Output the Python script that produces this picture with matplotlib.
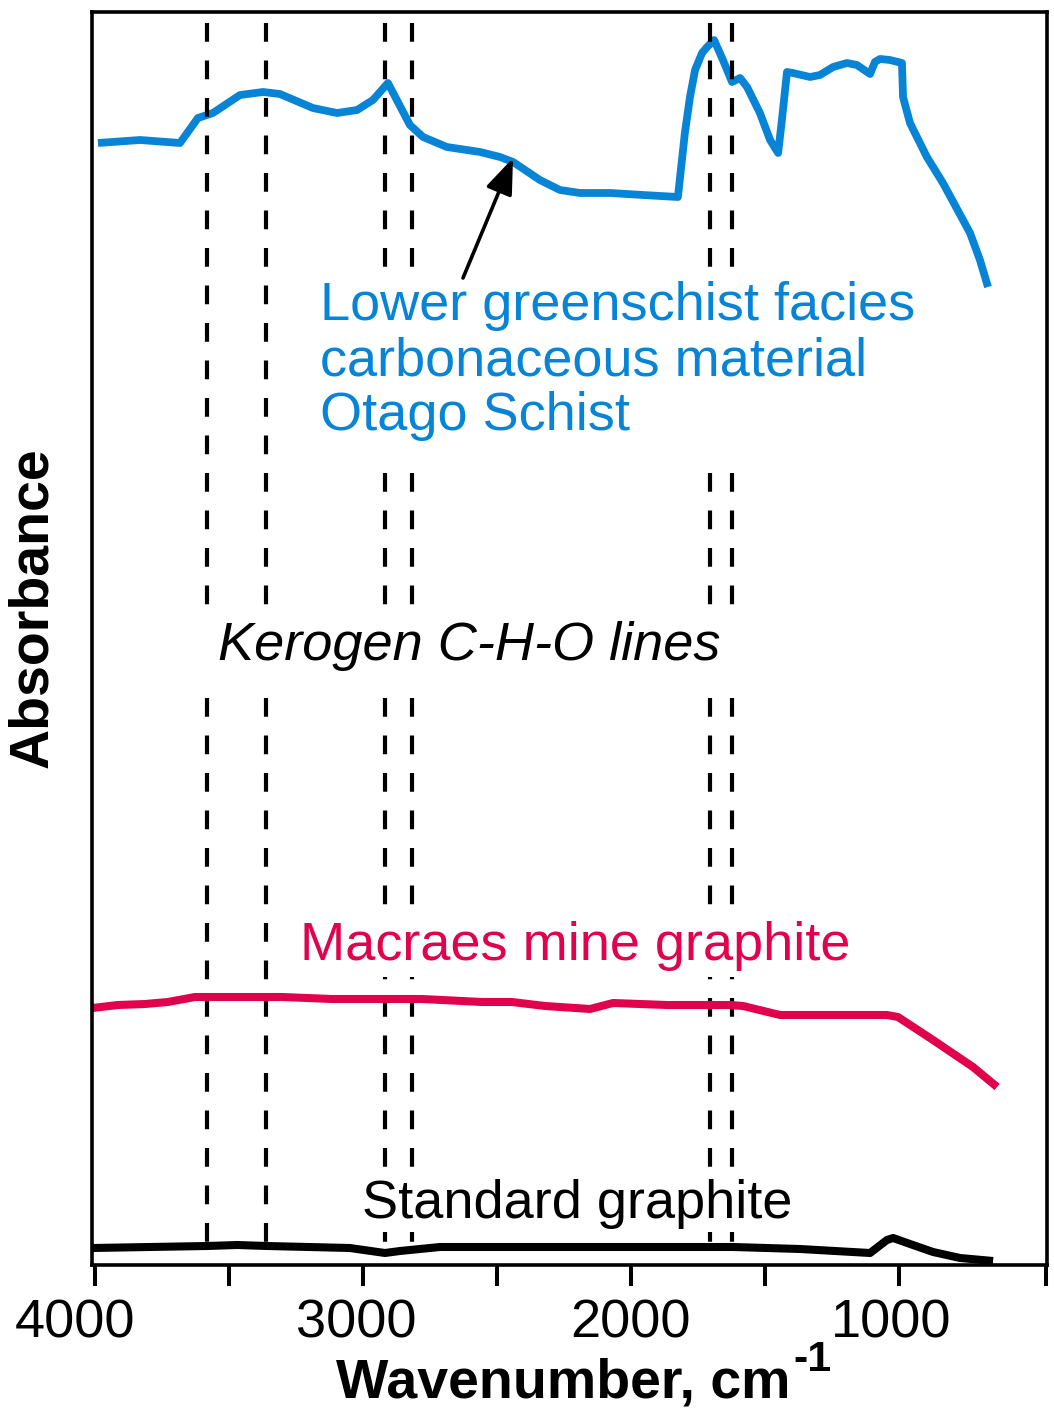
import matplotlib
matplotlib.use('Agg')
import matplotlib.pyplot as plt
from matplotlib.patches import Rectangle
from matplotlib.transforms import ScaledTranslation

plt.rcParams['font.family'] = ['Liberation Sans', 'DejaVu Sans']

# ---------------- data (wavenumber cm^-1, absorbance arbitrary units) -------------
blue_wn = [3989, 3832, 3683, 3616, 3560, 3459, 3373, 3310, 3187, 3097, 3022, 2963,
           2907, 2825, 2776, 2687, 2563, 2489, 2440, 2340, 2265, 2190, 2078, 1955,
           1825, 1799, 1780, 1761, 1735, 1716, 1690, 1657, 1623, 1593, 1567, 1519,
           1481, 1451, 1437, 1418, 1396, 1332, 1295, 1246, 1194, 1157, 1108, 1090,
           1071, 1034, 989, 985, 959, 896, 836, 735, 698, 668]
blue_ab = [11.22, 11.25, 11.22, 11.47, 11.52, 11.70, 11.73, 11.71, 11.57, 11.52, 11.55, 11.65,
           11.82, 11.40, 11.28, 11.18, 11.13, 11.08, 11.03, 10.85, 10.75, 10.72, 10.72, 10.70,
           10.68, 11.32, 11.68, 11.95, 12.12, 12.18, 12.25, 12.05, 11.83, 11.87, 11.78, 11.52,
           11.25, 11.12, 11.45, 11.93, 11.92, 11.88, 11.90, 11.98, 12.02, 12.00, 11.91, 12.03,
           12.06, 12.05, 12.02, 11.68, 11.42, 11.08, 10.82, 10.32, 10.05, 9.78]

red_wn = [4010, 3914, 3813, 3728, 3627, 3541, 3302, 3116, 2780, 2556, 2444, 2321,
          2153, 2067, 1866, 1631, 1582, 1444, 1045, 1004, 873, 724, 634]
red_ab = [2.57, 2.60, 2.61, 2.63, 2.68, 2.68, 2.68, 2.66, 2.66, 2.63, 2.63, 2.59,
          2.56, 2.62, 2.60, 2.60, 2.59, 2.50, 2.50, 2.48, 2.25, 1.98, 1.78]

black_wn = [4010, 3582, 3470, 3358, 3049, 2918, 2862, 2750, 2713, 1619, 1369, 1108,
            1045, 1022, 948, 873, 772, 649]
black_ab = [0.17, 0.19, 0.20, 0.19, 0.17, 0.12, 0.14, 0.17, 0.18, 0.18, 0.16, 0.12,
            0.25, 0.27, 0.20, 0.13, 0.07, 0.04]

kerogen_lines = [3582, 3362, 2918, 2817, 1705, 1623]

tick_values = [4000, 3500, 3000, 2500, 2000, 1500, 1000, 450]
tick_labels = ['4000', '', '3000', '', '2000', '', '1000', '']

label_blue = ['Lower greenschist facies', 'carbonaceous material', 'Otago Schist']
label_red = 'Macraes mine graphite'
label_black = 'Standard graphite'
label_lines = 'Kerogen C-H-O lines'

BLUE = '#0784D6'
RED = '#E0024D'

# ---------------- layout helpers (pixel -> data) ----------------
W, H = 1054, 1414


def wn(px):
    return 4000 - (px - 95) * 3.7313


def ab(py):
    return (1265 - py) / 100.0


fig = plt.figure(figsize=(W / 100, H / 100), dpi=100)
ax = fig.add_axes([92 / W, 1 - 1265 / H, (1047 - 92) / W, (1265 - 12) / H])
ax.set_xlim(wn(92), wn(1047))
ax.set_ylim(0, ab(12))

for s in ax.spines.values():
    s.set_linewidth(2.6)

ax.set_xticks(tick_values)
ax.set_xticklabels(tick_labels, fontsize=39)
ax.tick_params(axis='x', direction='out', length=15, width=2.9, pad=9)
ax.set_yticks([])
label_shift_px = [-20, 0, -7, 0, -1, 0, -8, 0]
for lab, dx in zip(ax.get_xticklabels(), label_shift_px):
    lab.set_transform(lab.get_transform() +
                      ScaledTranslation(dx / 100, 0, fig.dpi_scale_trans))

# dashed kerogen lines
for w in kerogen_lines:
    ax.plot([w, w], [ab(23), ab(1243)], color='black', lw=3.0,
            linestyle=(0, (4.5, 4.5)), zorder=1.5)

# white boxes behind annotation texts
boxes = [(315, 276, 928, 457), (200, 616, 742, 682), (295, 915, 862, 977),
         (355, 1170, 800, 1232)]
for x0, y0, x1, y1 in boxes:
    ax.add_patch(Rectangle((wn(x0), ab(y1)), wn(x1) - wn(x0), ab(y0) - ab(y1),
                           facecolor='white', edgecolor='none', zorder=1.8))

# spectra
ax.plot(blue_wn, blue_ab, color=BLUE, lw=5.6, solid_joinstyle='round',
        solid_capstyle='butt', zorder=1.2)
ax.plot(red_wn, red_ab, color=RED, lw=5.8, solid_joinstyle='round',
        solid_capstyle='butt', zorder=2.5)
ax.plot(black_wn, black_ab, color='black', lw=5.8, solid_joinstyle='round',
        solid_capstyle='butt', zorder=2.5)

# texts
for line, base in zip(label_blue, [320, 375, 430]):
    ax.text(wn(320), ab(base), line, color=BLUE, fontsize=39,
            ha='left', va='baseline', zorder=4)
ax.text(wn(218), ab(660), label_lines, color='black', fontsize=39,
        style='italic', ha='left', va='baseline', zorder=4)
ax.text(wn(300), ab(960), label_red, color=RED, fontsize=39,
        ha='left', va='baseline', zorder=4)
ax.text(wn(362), ab(1218), label_black, color='black', fontsize=39,
        ha='left', va='baseline', zorder=4)

# arrow
ax.annotate('', xy=(wn(513), ab(158)), xytext=(wn(463), ab(278)),
            arrowprops=dict(arrowstyle='-|>,head_length=1.1,head_width=0.42',
                            mutation_scale=20, lw=2.6, color='black',
                            shrinkA=0, shrinkB=0), zorder=5)

# axis labels
fig.text(791 / W, 1 - 1398 / H, 'Wavenumber, cm', fontsize=40, fontweight='bold',
         ha='right', va='baseline')
fig.text(793 / W, 1 - 1371 / H, '-1', fontsize=31, fontweight='bold',
         ha='left', va='baseline')
fig.text(33 / W, 1 - 608 / H, 'Absorbance', fontsize=40, fontweight='bold',
         rotation=90, ha='center', va='center')

fig.savefig('out.png', dpi=100)
